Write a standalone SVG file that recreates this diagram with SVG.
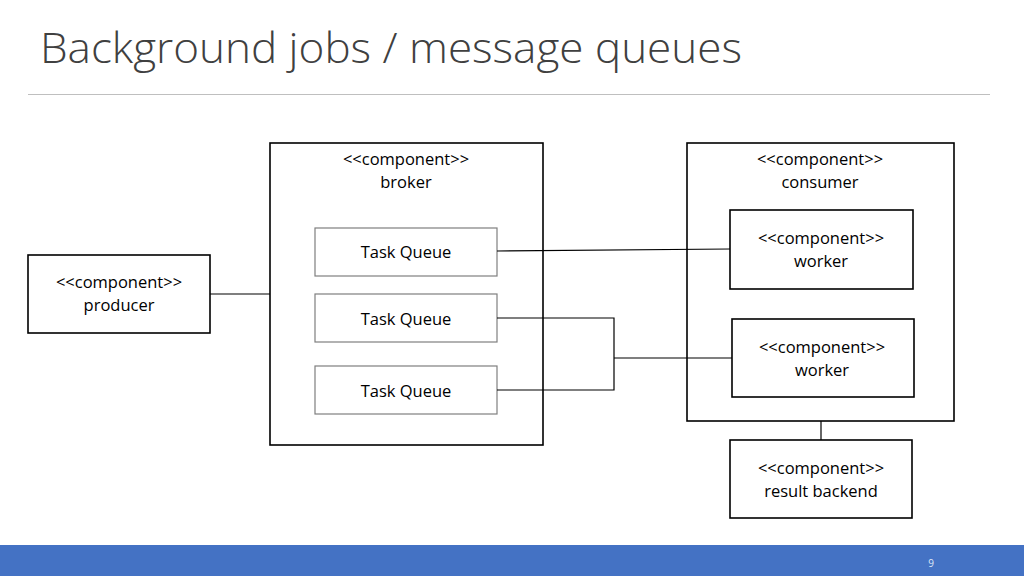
<svg xmlns="http://www.w3.org/2000/svg" width="1024" height="576" viewBox="0 0 1024 576">
<style>
.box{fill:#fff;stroke:#000;stroke-width:1.6}
.q{fill:#fff;stroke:#7f7f7f;stroke-width:1.2}
.t{font-family:"Open Sans","Liberation Sans",sans-serif;font-size:16.5px;fill:#000;text-anchor:middle}
.c{fill:none;stroke:#000;stroke-width:1.2}
</style>
<rect width="1024" height="576" fill="#fff"/>
<text x="40" y="63" font-family="Open Sans, Liberation Sans, sans-serif" font-weight="300" font-size="42" fill="#404040" textLength="702" lengthAdjust="spacingAndGlyphs">Background jobs / message queues</text>
<line x1="28" y1="94.5" x2="990" y2="94.5" stroke="#bfbfbf" stroke-width="1.2"/>
<g id="producer">
<rect class="box" x="28" y="255" width="182" height="78"/>
<text class="t" x="119" y="288">&lt;&lt;component&gt;&gt;</text>
<text class="t" x="119" y="311">producer</text>
</g>
<g id="broker">
<rect class="box" x="270" y="143" width="273" height="302"/>
<text class="t" x="406" y="165">&lt;&lt;component&gt;&gt;</text>
<text class="t" x="406" y="188">broker</text>
</g>
<g id="queue1">
<rect class="q" x="315" y="228" width="182" height="48"/>
<text class="t" x="406" y="258">Task Queue</text>
</g>
<g id="queue2">
<rect class="q" x="315" y="294" width="182" height="48"/>
<text class="t" x="406" y="325">Task Queue</text>
</g>
<g id="queue3">
<rect class="q" x="315" y="366" width="182" height="48"/>
<text class="t" x="406" y="397">Task Queue</text>
</g>
<g id="consumer">
<rect class="box" x="687" y="143" width="267" height="278"/>
<text class="t" x="820" y="165">&lt;&lt;component&gt;&gt;</text>
<text class="t" x="820" y="188">consumer</text>
</g>
<g id="worker1">
<rect class="box" x="730" y="210" width="183" height="79"/>
<text class="t" x="821" y="244">&lt;&lt;component&gt;&gt;</text>
<text class="t" x="821" y="267">worker</text>
</g>
<g id="worker2">
<rect class="box" x="732" y="319" width="182" height="78"/>
<text class="t" x="822" y="353">&lt;&lt;component&gt;&gt;</text>
<text class="t" x="822" y="376">worker</text>
</g>
<g id="result-backend">
<rect class="box" x="730" y="440" width="182" height="78"/>
<text class="t" x="821" y="474">&lt;&lt;component&gt;&gt;</text>
<text class="t" x="821" y="497">result backend</text>
</g>
<g id="connectors">
<line class="c" x1="210" y1="294" x2="270" y2="294"/>
<line class="c" x1="497" y1="251" x2="730" y2="249"/>
<polyline class="c" points="497,318 614,318 614,390 497,390"/>
<line class="c" x1="614" y1="358" x2="732" y2="358"/>
<line class="c" x1="821" y1="421" x2="821" y2="440"/>
</g>
<rect x="0" y="545" width="1024" height="31" fill="#4472c4"/>
<text x="931" y="567" font-family="Open Sans, Liberation Sans, sans-serif" font-size="10" fill="#dce6f5" text-anchor="middle">9</text>
</svg>
